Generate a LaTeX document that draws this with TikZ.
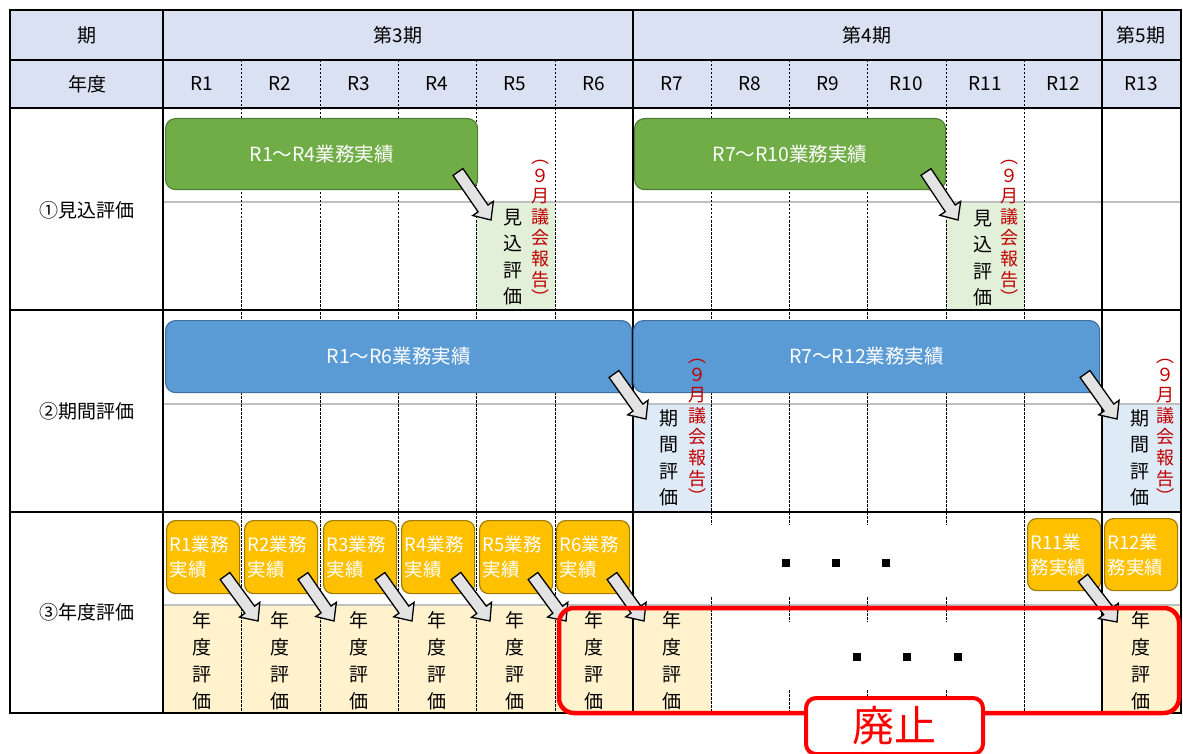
\documentclass[tikz,border=0pt]{standalone}
\usepackage{fontspec}
\setmainfont{Noto Sans CJK JP}
\usetikzlibrary{calc}
\definecolor{hdr}{HTML}{DAE1F2}
\definecolor{grn}{HTML}{70AD47}
\definecolor{grnb}{HTML}{507E32}
\definecolor{lgrn}{HTML}{E2F0D9}
\definecolor{blu}{HTML}{5B9BD5}
\definecolor{blub}{HTML}{41719C}
\definecolor{lblu}{HTML}{DEEBF7}
\definecolor{org}{HTML}{FFC000}
\definecolor{orgb}{HTML}{A07C00}
\definecolor{lorg}{HTML}{FFF2CC}
\definecolor{rtxt}{HTML}{C00000}
\definecolor{rbox}{HTML}{FF0000}
\newcommand\blkarr[2]{%
  \coordinate (hb) at ($(#2)!14pt!(#1)$);
  \draw[blkarrow] ($(#1)!6pt!90:(#2)$) -- ($(hb)!6pt!90:(#2)$) -- ($(hb)!12.5pt!90:(#2)$) -- (#2)
    -- ($(hb)!12.5pt!-90:(#2)$) -- ($(hb)!6pt!-90:(#2)$) -- ($(#1)!6pt!-90:(#2)$) -- cycle;}
\newcommand\kokai{︵\\[-2pt]９\\[-1pt]月\\議\\会\\報\\告\\[-3pt]︶}
\tikzset{
  hdrtxt/.style={font=\fontsize{19}{21}\selectfont, inner sep=0pt},
  grid/.style={line width=1.6pt, line cap=rect},
  dsh/.style={line width=0.9pt, dash pattern=on 2.5pt off 1.5pt},
  midline/.style={draw=gray!50, line width=1.5pt},
  gbox/.style={draw=grnb, fill=grn, line width=1.2pt, rounded corners=10pt, text=white,
    font=\fontsize{19.5}{21}\selectfont, anchor=north west, minimum height=71pt},
  bbox/.style={draw=blub, fill=blu, line width=1.2pt, rounded corners=10pt, text=white,
    font=\fontsize{19.5}{21}\selectfont, anchor=north west, minimum height=72pt},
  obox/.style={draw=orgb, fill=org, line width=1.2pt, rounded corners=9pt, text=white,
    font=\fontsize{18.5}{25}\selectfont, align=left, anchor=north west, text width=67pt,
    minimum height=73pt, inner xsep=3pt, inner ysep=1pt},
  blkarrow/.style={draw=black, fill=gray!22, line width=1.3pt, line join=miter},
  vtxt/.style={align=center, font=\fontsize{19}{26.5}\selectfont, inner sep=0pt},
  rvtxt/.style={align=center, text=rtxt, font=\fontsize{18}{21}\selectfont, inner sep=0pt},
  dotsq/.style={fill=black},
  redframe/.style={draw=rbox, line width=4.5pt, rounded corners=15pt},
}
\begin{document}
\begin{tikzpicture}[x=1pt,y=-1pt]
\useasboundingbox (0,0) rectangle (1183,754);
% fills
\fill[hdr] (10,10) rectangle (1181,108);
\fill[lgrn] (476,202) rectangle (555,310);
\fill[lgrn] (946,202) rectangle (1024,310);
\fill[lblu] (633,404) rectangle (711,512);
\fill[lblu] (1102,404) rectangle (1181,512);
\fill[lorg] (163,605) rectangle (711,713);
\fill[lorg] (1102,605) rectangle (1181,713);
% mid lines
\draw[midline] (163,202) -- (1181,202);
\draw[midline] (163,404) -- (1181,404);
\draw[midline] (163,605) -- (1181,605);
% dashed verticals
\foreach \x in {241,320,398,476,555,711,789,867,946,1024} \draw[dsh] (\x,60) -- (\x,512);
\foreach \x in {241,320,398,476,555,1024} \draw[dsh] (\x,512) -- (\x,713);
\draw[dsh] (711,512) -- (711,525) (711,597) -- (711,713);
\foreach \x in {789,867,946} \draw[dsh] (\x,512) -- (\x,525) (\x,597) -- (\x,622) (\x,690) -- (\x,713);
% solid grid
\foreach \y in {10,60,108,310,512,713} \draw[grid] (10,\y) -- (1181,\y);
\foreach \x in {10,163,633,1102,1181} \draw[grid] (\x,10) -- (\x,713);
% header texts
\node[hdrtxt] (hk) at (87,35) {期};
\node[hdrtxt] (h3) at (398,35) {第3期};
\node[hdrtxt] (h4) at (867,35) {第4期};
\node[hdrtxt] (h5) at (1141,35) {第5期};
\node[hdrtxt] (hn) at (87,84) {年度};
\foreach \n/\x in {1/202,2/280,3/359,4/437,5/515,6/594,7/672,8/750,9/828,10/906,11/985,12/1063,13/1141}
  \node[hdrtxt] (r\n) at (\x,84) {R\n};
% row labels
\node[hdrtxt] (l1) at (87,210) {①見込評価};
\node[hdrtxt] (l2) at (87,411) {②期間評価};
\node[hdrtxt] (l3) at (87,612) {③年度評価};
% row 1
\node[gbox, minimum width=312pt] (g1) at (165,118) {R1～R4業務実績};
\node[gbox, minimum width=311pt] (g2) at (634,118) {R7～R10業務実績};
\node[vtxt] (m1) at (513,257) {見\\込\\評\\価};
\node[rvtxt] (m1r) at (540,232) {\kokai};
\node[vtxt] (m2) at (983,258) {見\\込\\評\\価};
\node[rvtxt] (m2r) at (1009,232) {\kokai};
\coordinate (a1t) at (458,172); \coordinate (a1h) at (491,220);
\coordinate (a2t) at (926,172); \coordinate (a2h) at (958,220);
\blkarr{a1t}{a1h}
\blkarr{a2t}{a2h}
% row 2
\node[bbox, minimum width=466pt] (b1) at (165,320) {R1～R6業務実績};
\node[bbox, minimum width=466pt] (b2) at (633,320) {R7～R12業務実績};
\node[vtxt] (k1) at (669,458) {期\\間\\評\\価};
\node[rvtxt] (k1r) at (697,431) {\kokai};
\node[vtxt] (k2) at (1140,458) {期\\間\\評\\価};
\node[rvtxt] (k2r) at (1165,431) {\kokai};
\coordinate (a3t) at (614,374); \coordinate (a3h) at (646,419);
\coordinate (a4t) at (1085,374); \coordinate (a4h) at (1117,419);
\blkarr{a3t}{a3h}
\blkarr{a4t}{a4h}
% row 3
\foreach \n/\x in {1/166,2/244,3/323,4/401,5/479,6/556}
  \node[obox] (o\n) at (\x,520) {R\n{}業務\\実績};
\node[obox, minimum height=72pt] (o11) at (1027,518) {R11業\\務実績};
\node[obox, minimum height=72pt] (o12) at (1104,518) {R12業\\務実績};
\foreach \n/\x in {1/202,2/280,3/359,4/437,5/515,6/594,7/672,13/1141}
  \node[vtxt, font=\fontsize{19}{27}\selectfont] (y\n) at (\x,661) {年\\度\\評\\価};
\foreach \n/\tx/\hx in {1/225/258,2/303/334,3/380/412,4/456/490,5/533/566,6/612/644}{
  \coordinate (c\n t) at (\tx,576); \coordinate (c\n h) at (\hx,621);
  \blkarr{c\n t}{c\n h}}
\coordinate (c12t) at (1083,578); \coordinate (c12h) at (1117,622);
\blkarr{c12t}{c12h}
% dots
\foreach \x in {786,836,886} \fill[dotsq] (\x-4,559) rectangle (\x+4,567);
\foreach \x in {857,907,958} \fill[dotsq] (\x-4,653) rectangle (\x+4,661);
% abolish frame
\draw[redframe] (559,608) rectangle (1179,713);
\node[draw=rbox, fill=white, line width=4pt, rounded corners=10pt, minimum width=177pt,
  minimum height=56pt, anchor=north west, text=rbox, font=\fontsize{42}{44}\selectfont, inner sep=0pt]
  (hs) at (804,696) {廃止};
\end{tikzpicture}
\end{document}
